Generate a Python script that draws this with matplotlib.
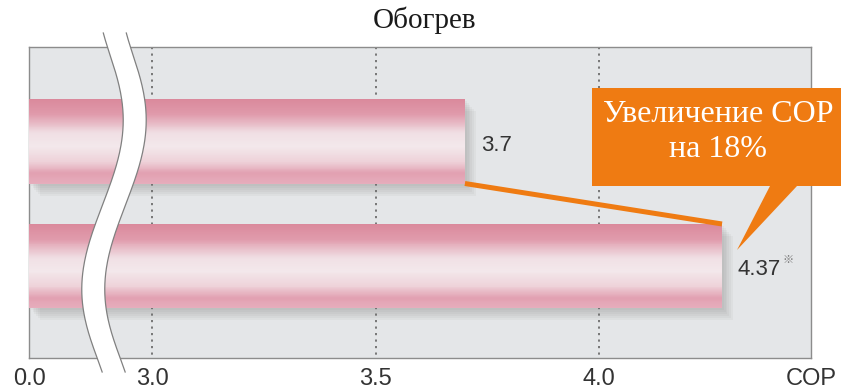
import numpy as np
import matplotlib.pyplot as plt
from matplotlib.colors import LinearSegmentedColormap
from matplotlib.patches import Polygon
from matplotlib.transforms import Affine2D

# data
title = 'Обогрев'
models = ['previous', 'new']
cop = [3.7, 4.37]
value_labels = ['3.7', '4.37']
note_mark = '※'
tick_values = [0.0, 3.0, 3.5, 4.0]
tick_labels = ['0.0', '3.0', '3.5', '4.0']
axis_name = 'COP'
callout = 'Увеличение COP\nна 18%'

W, H = 841, 390
ORANGE = '#ef7b12'
PANEL = '#e4e6e8'

# broken axis: 0..3 squeezed, 3..4 wide, tail after 4 compressed
x_knots = [0.0, 3.0, 4.0, 4.37, 4.64]
px_knots = [0.0, 123.0, 570.0, 693.0, 782.0]
x_ext = [-100.0] + x_knots + [100.0]
s_lo = (px_knots[1] - px_knots[0]) / (x_knots[1] - x_knots[0])
s_hi = (px_knots[-1] - px_knots[-2]) / (x_knots[-1] - x_knots[-2])
px_ext = ([px_knots[0] - 100.0 * s_lo] + px_knots
          + [px_knots[-1] + (100.0 - x_knots[-1]) * s_hi])


def fwd(v):
    return np.interp(v, x_ext, px_ext)


def inv(p):
    return np.interp(p, px_ext, x_ext)


fig = plt.figure(figsize=(W / 100, H / 100), dpi=100)
ax = fig.add_axes([29 / W, 1 - 358 / H, 782 / W, 311 / H])
ax.set_xscale('function', functions=(fwd, inv))
ax.set_xlim(x_knots[0], x_knots[-1])
ax.set_ylim(1.739, -0.759)
ax.set_facecolor(PANEL)
for sp in ax.spines.values():
    sp.set_color('#8c8c8c')
    sp.set_linewidth(1.0)

# dotted grid
ax.vlines(tick_values[1:], -0.759, 1.739, colors='#6e6e6e', lw=1.3,
          linestyles=(0, (1.2, 2.4)), zorder=1)

bar_h = 0.675
ypos = np.arange(len(models))

# soft shadow under each bar
for d in [2, 4, 6, 8, 10, 12]:
    sh = ax.barh(ypos, cop, height=bar_h, left=0, color='#707070',
                 alpha=0.06, lw=0, zorder=2)
    for p in sh:
        p.set_transform(ax.transData + Affine2D().translate(d * 0.9, -d))

# pink cylinder gradient, built from thin horizontal slices
grad = LinearSegmentedColormap.from_list('bar', [
    (0.0, '#da899c'), (0.18, '#e09bac'), (0.4, '#f0dfe4'),
    (0.56, '#f3e8eb'), (0.74, '#eed2d9'), (0.88, '#e2a0b1'),
    (1.0, '#e6adbc')])
n = 90
for i, v in enumerate(cop):
    k = (np.arange(n) + 0.5) / n
    ys = ypos[i] - bar_h / 2 + k * bar_h
    ax.barh(ys, [v] * n, height=bar_h / n * 1.05, left=0,
            color=grad(k), lw=0, zorder=3)

# orange connector between the bar ends
ax.plot([cop[0], cop[1]], [ypos[0] + bar_h / 2, ypos[1] - bar_h / 2],
        color=ORANGE, lw=3.6, solid_capstyle='butt', zorder=4)

# value labels
for i, v in enumerate(cop):
    ax.annotate(value_labels[i], (v, ypos[i]), xytext=(16, -4),
                textcoords='offset pixels', ha='left', va='center',
                fontsize=16, color='#333333', family='Liberation Sans',
                zorder=7)
ax.annotate(note_mark, (cop[1], ypos[1]), xytext=(60, 6),
            textcoords='offset pixels', ha='left', va='center',
            fontsize=8, color='#777777',
            family=['Noto Sans CJK JP', 'DejaVu Sans'], zorder=7)

# ticks
ax.set_yticks([])
ax.set_xticks(tick_values + [x_knots[-1]])
ax.set_xticklabels(tick_labels + [axis_name])
ax.xaxis.set_minor_locator(plt.NullLocator())
ax.tick_params(axis='x', length=0, pad=7, labelsize=17,
               labelcolor='#333333')
for t in ax.get_xticklabels():
    t.set_family('Liberation Sans')

# overlay drawn in image pixels (origin top-left)
px = Affine2D().scale(1 / W, -1 / H).translate(0, 1) + fig.transFigure

# wavy break band
guide_y = [33, 47, 80, 123, 180, 230, 280, 333, 357, 370]
guide_x = [114.5, 119.5, 129, 134, 125, 102.5, 95, 100, 107.5, 113.5]
wave = np.poly1d(np.polyfit(guide_y, guide_x, 5))
yy = np.linspace(33, 372, 200)
cx = wave(yy)
left_edge = np.column_stack([cx - 11.5, yy])
right_edge = np.column_stack([cx + 11.5, yy])
band = Polygon(np.vstack([left_edge, right_edge[::-1]]), closed=True,
               facecolor='white', edgecolor='none', transform=px,
               zorder=5)
fig.add_artist(band)
for edge in (left_edge, right_edge):
    fig.add_artist(plt.Line2D(edge[:, 0], edge[:, 1], color='#808080',
                              lw=0.9, transform=px, zorder=6))

# callout box with pointer
box = Polygon([(592, 88), (845, 88), (845, 186), (797, 186), (737, 250),
               (770, 186), (592, 186)], closed=True, facecolor=ORANGE,
              edgecolor='none', transform=px, zorder=6)
fig.add_artist(box)
fig.text(718 / W, 1 - 132 / H, callout, ha='center', va='center',
         fontsize=23, color='white', family='Liberation Serif',
         linespacing=1.3, zorder=7)

fig.text(425 / W, 1 - 20 / H, title, ha='center', va='center',
         fontsize=21, color='#1a1a1a', family='Liberation Serif')

fig.savefig('out.png', dpi=100)
